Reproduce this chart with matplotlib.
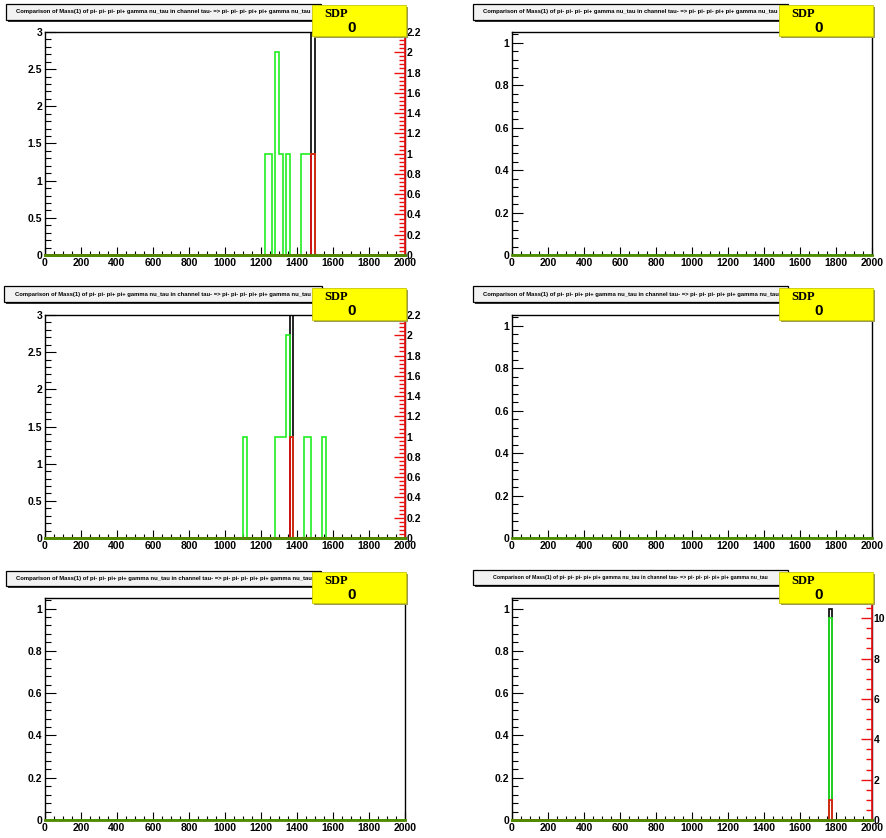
import numpy as np
import matplotlib
matplotlib.use("Agg")
import matplotlib.pyplot as plt
from matplotlib.patches import Rectangle
from matplotlib.ticker import MultipleLocator, FormatStrFormatter

W, H = 886, 838

# histogram binning: 100 bins of 20 from 0 to 2000
edges = np.arange(0, 2001, 20)

title_a = "Comparison of Mass(1) of pi- pi- pi- pi+ gamma nu_tau in channel tau- => pi- pi- pi- pi+ pi+ gamma nu_tau"
title_b = "Comparison of Mass(1) of pi- pi- pi+ pi+ gamma nu_tau in channel tau- => pi- pi- pi- pi+ pi+ gamma nu_tau"
title_c = "Comparison of Mass(1) of pi- pi- pi- pi+ pi+ gamma nu_tau in channel tau- => pi- pi- pi- pi+ pi+ gamma nu_tau"
titles = [title_a, title_a, title_b, title_b, title_b, title_c]
sdp_values = ["0", "0", "0", "0", "0", "0"]

# panel 1 (top left)
p1_black_lo = [1480]
p1_black_n = [3]
p1_green_lo = [1220, 1240, 1280, 1300, 1340, 1420, 1440, 1460, 1480]
p1_green_n = [1, 1, 2, 1, 1, 1, 1, 1, 1]
p1_red_lo = [1480]
p1_red_n = [1]

# panel 3 (middle left)
p3_black_lo = [1360]
p3_black_n = [3]
p3_green_lo = [1100, 1280, 1300, 1320, 1340, 1360, 1440, 1460, 1540]
p3_green_n = [1, 1, 1, 1, 2, 1, 1, 1, 1]
p3_red_lo = [1360]
p3_red_n = [1]

# panel 6 (bottom right)
p6_black_lo = [1760]
p6_black_n = [1]
p6_green_lo = [1760]
p6_green_n = [10]
p6_red_lo = [1760]
p6_red_n = [1]


def fill(lo, n):
    h = np.zeros(len(edges) - 1)
    for a, v in zip(lo, n):
        h[np.searchsorted(edges, a)] = v
    return h


panels = [
    dict(black=(p1_black_lo, p1_black_n), green=(p1_green_lo, p1_green_n),
         red=(p1_red_lo, p1_red_n), ylim=3, ystep=0.5, yminor=0.1, rlim=2.2, rstep=0.2, rminor=0.04),
    None,
    dict(black=(p3_black_lo, p3_black_n), green=(p3_green_lo, p3_green_n),
         red=(p3_red_lo, p3_red_n), ylim=3, ystep=0.5, yminor=0.1, rlim=2.2, rstep=0.2, rminor=0.04),
    None,
    None,
    dict(black=(p6_black_lo, p6_black_n), green=(p6_green_lo, p6_green_n),
         red=(p6_red_lo, p6_red_n), ylim=1.05, ystep=0.2, yminor=0.04, rlim=11, rstep=2, rminor=0.5),
]

# pixel layout: (left, top, right, bottom) of each frame
frames = [(45, 32, 405, 255), (512, 32, 872, 255),
          (45, 315, 405, 538), (512, 315, 872, 538),
          (45, 598, 405, 820), (512, 598, 872, 820)]
title_boxes = [(6, 4, 321, 20), (473, 4, 788, 20),
               (4, 286, 322, 302), (473, 286, 788, 302),
               (6, 571, 321, 586), (473, 570, 788, 585)]
title_sizes = [4.25, 4.25, 4.25, 4.25, 4.25, 3.8]
yellow_boxes = [(312, 5, 406, 36), (779, 5, 873, 36),
                (312, 288, 406, 320), (779, 288, 873, 320),
                (312, 572, 406, 603), (779, 572, 873, 603)]

GREEN = "#22ee22"
RED = "#ee1111"
OLIVE = "#4f8a00"
lab_font = dict(family="Liberation Sans", weight="bold", size=7.5)

fig = plt.figure(figsize=(W / 100, H / 100), dpi=100)


def fx(x):
    return x / W


def fy(y):
    return 1 - y / H


def rect(x0, y0, x1, y1, **kw):
    r = Rectangle((fx(x0), fy(y1)), (x1 - x0) / W, (y1 - y0) / H,
                  transform=fig.transFigure, figure=fig, **kw)
    fig.patches.append(r)


def style_labels(axis):
    for t in axis.get_ticklabels():
        t.set_fontfamily(lab_font["family"])
        t.set_fontweight(lab_font["weight"])
        t.set_fontsize(lab_font["size"])


for i, (l, t, r, b) in enumerate(frames):
    ax = fig.add_axes([fx(l), fy(b), (r - l) / W, (b - t) / H])
    p = panels[i]
    ax.set_xlim(0, 2000)
    ax.xaxis.set_major_locator(MultipleLocator(200))
    ax.xaxis.set_minor_locator(MultipleLocator(50))
    ax.tick_params(axis="x", which="major", direction="in", length=6, width=0.8, pad=2)
    ax.tick_params(axis="x", which="minor", direction="in", length=3, width=0.8)
    ax.tick_params(axis="y", which="major", direction="in", length=8, width=0.8, pad=2)
    ax.tick_params(axis="y", which="minor", direction="in", length=4, width=0.8)
    ax.xaxis.set_major_formatter(FormatStrFormatter("%g"))
    ax.yaxis.set_major_formatter(FormatStrFormatter("%g"))
    for s in ax.spines.values():
        s.set_linewidth(1.0)
    ax.spines["bottom"].set_color(OLIVE)
    ax.spines["bottom"].set_linewidth(2)
    ax.spines["bottom"].set_zorder(5)

    if p is None:
        ax.set_ylim(0, 1.05)
        ax.yaxis.set_major_locator(MultipleLocator(0.2))
        ax.yaxis.set_minor_locator(MultipleLocator(0.04))
        ax.stairs(np.zeros(len(edges) - 1), edges, color=GREEN, lw=1.2)
    else:
        ax.set_ylim(0, p["ylim"])
        ax.yaxis.set_major_locator(MultipleLocator(p["ystep"]))
        ax.yaxis.set_minor_locator(MultipleLocator(p["yminor"]))
        ax.stairs(fill(*p["black"]), edges, color="black", lw=1.2)
        ax2 = ax.twinx()
        ax2.set_ylim(0, p["rlim"])
        ax2.stairs(fill(*p["green"]), edges, color=GREEN, lw=1.2)
        ax2.stairs(fill(*p["red"]), edges, color=RED, lw=1.2)
        ax2.yaxis.set_major_locator(MultipleLocator(p["rstep"]))
        ax2.yaxis.set_minor_locator(MultipleLocator(p["rminor"]))
        ax2.yaxis.set_major_formatter(FormatStrFormatter("%g"))
        ax2.tick_params(axis="y", which="major", direction="in", length=8, width=1,
                        color=RED, pad=1)
        ax2.tick_params(axis="y", which="minor", direction="in", length=4, width=1, color=RED)
        for k in ["top", "left"]:
            ax2.spines[k].set_visible(False)
        ax2.spines["right"].set_color(RED)
        ax2.spines["right"].set_linewidth(1.2)
        ax2.spines["bottom"].set_color(OLIVE)
        ax2.spines["bottom"].set_linewidth(2)
        style_labels(ax2.yaxis)
    style_labels(ax.xaxis)
    style_labels(ax.yaxis)

    # title box with shadow
    x0, y0, x1, y1 = title_boxes[i]
    rect(x0 + 2, y0 + 2, x1 + 2, y1 + 2, facecolor="#333333", edgecolor="none", zorder=10)
    rect(x0, y0, x1, y1, facecolor="#f2f2f2", edgecolor="black", lw=0.9, zorder=11)
    fig.text(fx((x0 + x1) / 2), fy((y0 + y1) / 2), titles[i], ha="center", va="center",
             family="Liberation Sans", weight="bold", size=title_sizes[i], zorder=12)

    # yellow SDP box
    x0, y0, x1, y1 = yellow_boxes[i]
    rect(x0 + 2, y0 + 2, x1 + 2, y1 + 2, facecolor="#9a9a50", edgecolor="none", zorder=10)
    rect(x0, y0, x1, y1, facecolor="#ffff00", edgecolor="#c8c800", lw=0.6, zorder=11)
    fig.text(fx(x0 + 12), fy(y0 + 9), "SDP", ha="left", va="center",
             family="Liberation Serif", weight="bold", size=9, zorder=12)
    fig.text(fx(x0 + 40), fy(y0 + 23), sdp_values[i], ha="center", va="center",
             family="Liberation Sans", weight="bold", size=11, zorder=12)

fig.savefig("out.png", dpi=100)
